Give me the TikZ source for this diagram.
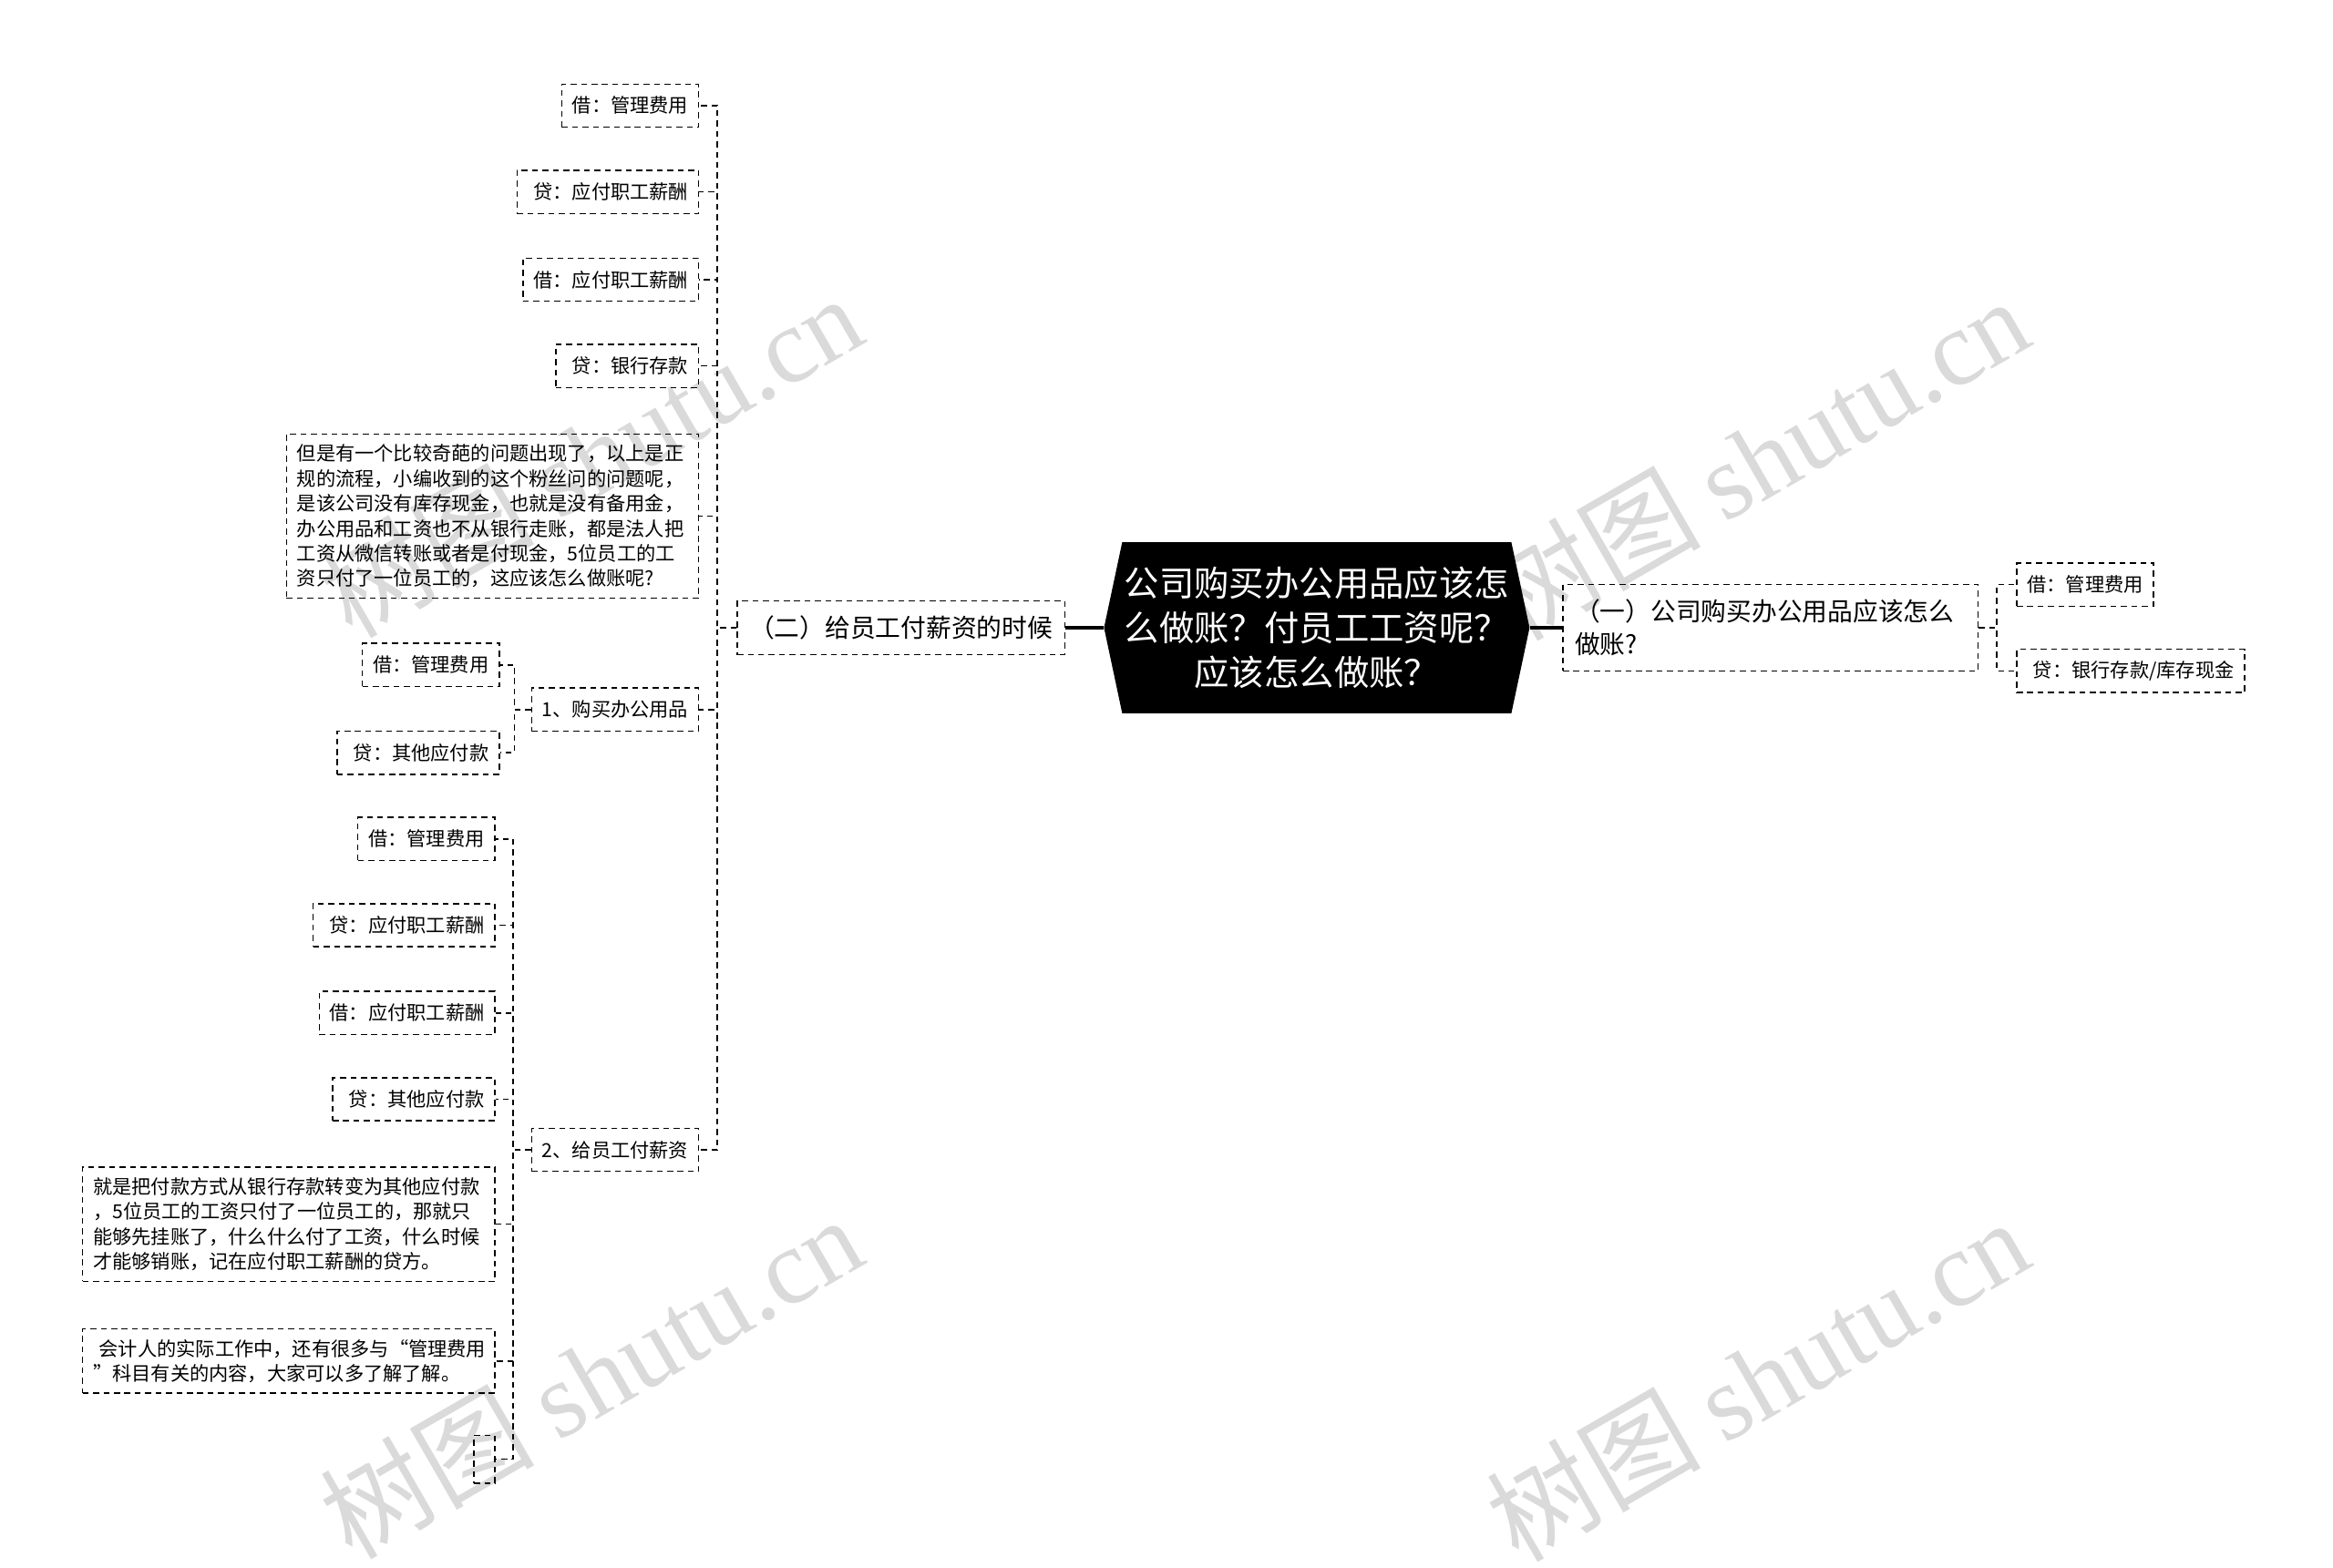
\documentclass[tikz,border=0pt]{standalone}
\usepackage{fontspec}
\setmainfont{Noto Sans CJK SC}
\newfontfamily\wmfont{Liberation Serif}
\usepackage{tikz}
\usetikzlibrary{shapes.symbols}
\definecolor{wmgray}{RGB}{218,218,218}

\begin{document}
\begin{tikzpicture}[
    x=1pt,y=-1pt,
    leaf/.style={draw,dash pattern=on 4pt off 3pt,line width=0.9pt,
      font=\fontsize{13}{16.8}\selectfont,inner xsep=7pt,inner ysep=6pt,
      minimum height=29pt},
    note/.style={leaf,align=left,text width=263pt,inner ysep=7pt},
    branch/.style={draw,dash pattern=on 4pt off 3pt,line width=0.9pt,
      font=\fontsize{17}{22}\selectfont,inner xsep=8pt,inner ysep=10pt},
    link/.style={dash pattern=on 4pt off 3pt,line width=0.9pt},
    thick link/.style={line width=2.5pt},
    wmark/.style={text=wmgray,font=\fontsize{72}{72}\selectfont,rotate=30}
  ]
  \useasboundingbox (0,0) rectangle (1568,1054);

  % watermarks
  \node[wmark] (wm1) at (397,306) {树图 {\wmfont shutu.cn}};
  \node[wmark] (wm2) at (1181,308) {树图 {\wmfont shutu.cn}};
  \node[wmark] (wm3) at (397,925) {树图 {\wmfont shutu.cn}};
  \node[wmark] (wm4) at (1181,927) {树图 {\wmfont shutu.cn}};

  % root
  \node[shape=signal,signal to=west and east,signal pointer angle=156,
    fill=black,text=white,align=center,font=\fontsize{23.5}{30}\selectfont,
    minimum width=286pt,minimum height=115pt,inner sep=0pt]
    (root) at (885,422) {公司购买办公用品应该怎\\么做账？付员工工资呢？\\应该怎么做账？};

  % first branch
  \node[branch,anchor=west,align=left,text width=263pt] (p1) at (1050,422)
    {（一）公司购买办公用品应该怎么\\做账?};
  \node[leaf,anchor=west] (r1) at (1355,393) {借：管理费用};
  \node[leaf,anchor=west] (r2) at (1355,451) {\hspace{4pt}贷：银行存款/库存现金};

  % second branch
  \node[branch,anchor=east] (p2) at (716,422) {（二）给员工付薪资的时候};
  \node[leaf,anchor=east] (a1) at (470,71) {借：管理费用};
  \node[leaf,anchor=east] (a2) at (470,129) {\hspace{4pt}贷：应付职工薪酬};
  \node[leaf,anchor=east] (a3) at (470,188) {借：应付职工薪酬};
  \node[leaf,anchor=east] (a4) at (470,246) {\hspace{4pt}贷：银行存款};
  \node[note,anchor=east] (a5) at (470,347) {但是有一个比较奇葩的问题出现了，以上是正\\
    规的流程，小编收到的这个粉丝问的问题呢，\\
    是该公司没有库存现金，也就是没有备用金，\\
    办公用品和工资也不从银行走账，都是法人把\\
    工资从微信转账或者是付现金，5位员工的工\\
    资只付了一位员工的，这应该怎么做账呢?};
  \node[leaf,anchor=east] (a6) at (470,477) {1、购买办公用品};
  \node[leaf,anchor=east] (a7) at (470,773) {2、给员工付薪资};

  \node[leaf,anchor=east] (b1) at (336,447) {借：管理费用};
  \node[leaf,anchor=east] (b2) at (336,506) {\hspace{4pt}贷：其他应付款};

  \node[leaf,anchor=east] (c1) at (333,564) {借：管理费用};
  \node[leaf,anchor=east] (c2) at (333,622) {\hspace{4pt}贷：应付职工薪酬};
  \node[leaf,anchor=east] (c3) at (333,681) {借：应付职工薪酬};
  \node[leaf,anchor=east] (c4) at (333,739) {\hspace{4pt}贷：其他应付款};
  \node[note,anchor=east] (c5) at (333,823) {就是把付款方式从银行存款转变为其他应付款\\
    ，5位员工的工资只付了一位员工的，那就只\\
    能够先挂账了，什么什么付了工资，什么时候\\
    才能够销账，记在应付职工薪酬的贷方。};
  \node[note,anchor=east] (c6) at (333,915) {\hspace{4pt}会计人的实际工作中，还有很多与“管理费用\\
    ”科目有关的内容，大家可以多了解了解。};
  \node[leaf,anchor=east,minimum width=14pt,minimum height=32pt,inner sep=0pt]
    (c7) at (333,981) {};

  % connectors
  \draw[thick link] (root.west) -- (p2.east);
  \draw[thick link] (root.east) -- (p1.west);
  \foreach \n in {r1,r2}
    \draw[link] (p1.east) -- ++(12,0) |- (\n.west);
  \foreach \n in {a1,a2,a3,a4,a5,a6,a7}
    \draw[link] (p2.west) -- ++(-13,0) |- (\n.east);
  \foreach \n in {b1,b2}
    \draw[link] (a6.west) -- ++(-11,0) |- (\n.east);
  \foreach \n in {c1,c2,c3,c4,c5,c6,c7}
    \draw[link] (a7.west) -- ++(-12,0) |- (\n.east);
\end{tikzpicture}
\end{document}
